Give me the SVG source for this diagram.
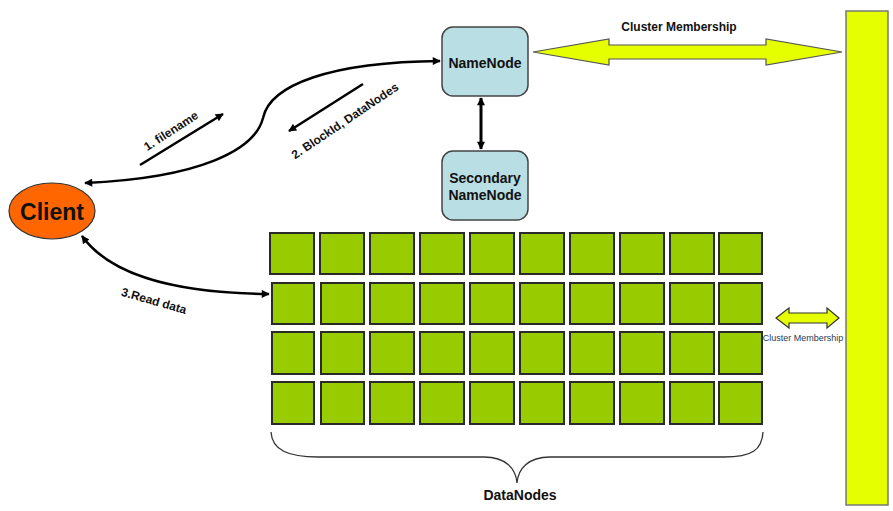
<svg xmlns="http://www.w3.org/2000/svg" width="893" height="511" viewBox="0 0 893 511">
<style>
.t{font-family:"Liberation Sans",Arial,sans-serif;font-weight:bold;fill:#111;text-anchor:middle;dominant-baseline:central}
.box{fill:#B9DFE4;stroke:#444;stroke-width:1.5}
.dn{fill:#99CC00;stroke:#2a2a2a;stroke-width:2}
.con{fill:none;stroke:#000;stroke-width:2.5}
.yel{fill:#E5FF00;stroke:#555;stroke-width:1.2}
</style>
<defs>
<marker id="ah" viewBox="0 0 10 10" refX="9" refY="5" markerWidth="9" markerHeight="8" markerUnits="userSpaceOnUse" orient="auto-start-reverse">
<path d="M0,0 L10,5 L0,10 z" fill="#000"/>
</marker>
</defs>
<rect width="893" height="511" fill="#fff"/>

<g id="cluster-bar"><rect class="yel" x="846" y="11" width="42" height="494" style="stroke:#777;stroke-width:1.5"/></g>

<g id="client">
<ellipse cx="52" cy="211" rx="43" ry="28" fill="#FF6600" stroke="#333" stroke-width="1.2"/>
<text class="t" x="52" y="212" font-size="23">Client</text>
</g>

<g id="namenode">
<rect class="box" x="442" y="27" width="86" height="69" rx="11"/>
<text class="t" x="485" y="63" font-size="14">NameNode</text>
</g>

<g id="secondary-namenode">
<rect class="box" x="442" y="151" width="86" height="69" rx="11"/>
<text class="t" x="485" y="178" font-size="14">Secondary</text>
<text class="t" x="485" y="195" font-size="14">NameNode</text>
</g>

<g id="datanodes">
<g id="row1">
<rect class="dn" x="270" y="233" width="44" height="41"/><rect class="dn" x="320" y="233" width="44" height="41"/><rect class="dn" x="370" y="233" width="44" height="41"/><rect class="dn" x="420" y="233" width="44" height="41"/><rect class="dn" x="470" y="233" width="44" height="41"/><rect class="dn" x="520" y="233" width="44" height="41"/><rect class="dn" x="570" y="233" width="44" height="41"/><rect class="dn" x="620" y="233" width="44" height="41"/><rect class="dn" x="670" y="233" width="44" height="41"/><rect class="dn" x="719" y="233" width="43" height="41"/>
</g>
<g id="row2">
<rect class="dn" x="272" y="283" width="42" height="41"/><rect class="dn" x="321" y="283" width="43" height="41"/><rect class="dn" x="370" y="283" width="44" height="41"/><rect class="dn" x="420" y="283" width="44" height="41"/><rect class="dn" x="470" y="283" width="44" height="41"/><rect class="dn" x="520" y="283" width="44" height="41"/><rect class="dn" x="570" y="283" width="44" height="41"/><rect class="dn" x="620" y="283" width="44" height="41"/><rect class="dn" x="670" y="283" width="44" height="41"/><rect class="dn" x="719" y="283" width="43" height="41"/>
</g>
<g id="row3">
<rect class="dn" x="272" y="332" width="42" height="42"/><rect class="dn" x="321" y="332" width="43" height="42"/><rect class="dn" x="370" y="332" width="44" height="42"/><rect class="dn" x="420" y="332" width="44" height="42"/><rect class="dn" x="470" y="332" width="44" height="42"/><rect class="dn" x="520" y="332" width="44" height="42"/><rect class="dn" x="570" y="332" width="44" height="42"/><rect class="dn" x="620" y="332" width="44" height="42"/><rect class="dn" x="670" y="332" width="44" height="42"/><rect class="dn" x="719" y="332" width="43" height="42"/>
</g>
<g id="row4">
<rect class="dn" x="272" y="382" width="42" height="42"/><rect class="dn" x="321" y="382" width="43" height="42"/><rect class="dn" x="370" y="382" width="44" height="42"/><rect class="dn" x="420" y="382" width="44" height="42"/><rect class="dn" x="470" y="382" width="44" height="42"/><rect class="dn" x="520" y="382" width="44" height="42"/><rect class="dn" x="570" y="382" width="44" height="42"/><rect class="dn" x="620" y="382" width="44" height="42"/><rect class="dn" x="670" y="382" width="44" height="42"/><rect class="dn" x="719" y="382" width="43" height="42"/>
</g>
<path d="M271,432 C272,450 288,457 318,457 L484,457 C506,457 516,469 517,483 C518,469 528,457 550,457 L724,457 C752,457 762,450 763,432" fill="none" stroke="#333" stroke-width="1.3"/>
<text class="t" x="520" y="495" font-size="14">DataNodes</text>
</g>

<g id="connectors">
<path class="con" d="M85,183 C200,178 255,150 263,118 C270,85 330,62 440,61" marker-start="url(#ah)" marker-end="url(#ah)"/>
<line class="con" x1="140" y1="165" x2="223" y2="114" marker-end="url(#ah)"/>
<line class="con" x1="363" y1="84" x2="289" y2="131" marker-end="url(#ah)"/>
<line class="con" x1="481" y1="98" x2="481" y2="149" marker-start="url(#ah)" marker-end="url(#ah)" style="stroke-width:3"/>
<path class="con" d="M82,236 C108,272 165,293 269,294" marker-start="url(#ah)" marker-end="url(#ah)"/>
<polygon class="yel" points="533,52 609,39 609,45 766,45 766,39 842,52 766,65 766,59 609,59 609,65"/>
<polygon class="yel" points="776,318 789,308 789,313 827,313 827,308 839,318 827,328 827,323 789,323 789,328" style="stroke:#333"/>
</g>

<g id="labels">
<text class="t" x="171" y="131" font-size="12" transform="rotate(-33 171 131)">1. filename</text>
<text class="t" x="345" y="121" font-size="12" transform="rotate(-34 345 121)">2. BlockId, DataNodes</text>
<text class="t" x="154" y="301" font-size="12" transform="rotate(16 154 301)">3.Read data</text>
<text class="t" x="679" y="27" font-size="12">Cluster Membership</text>
<text class="t" x="803" y="338" font-size="9" style="font-weight:normal;fill:#2B3A55">Cluster Membership</text>
</g>
</svg>
